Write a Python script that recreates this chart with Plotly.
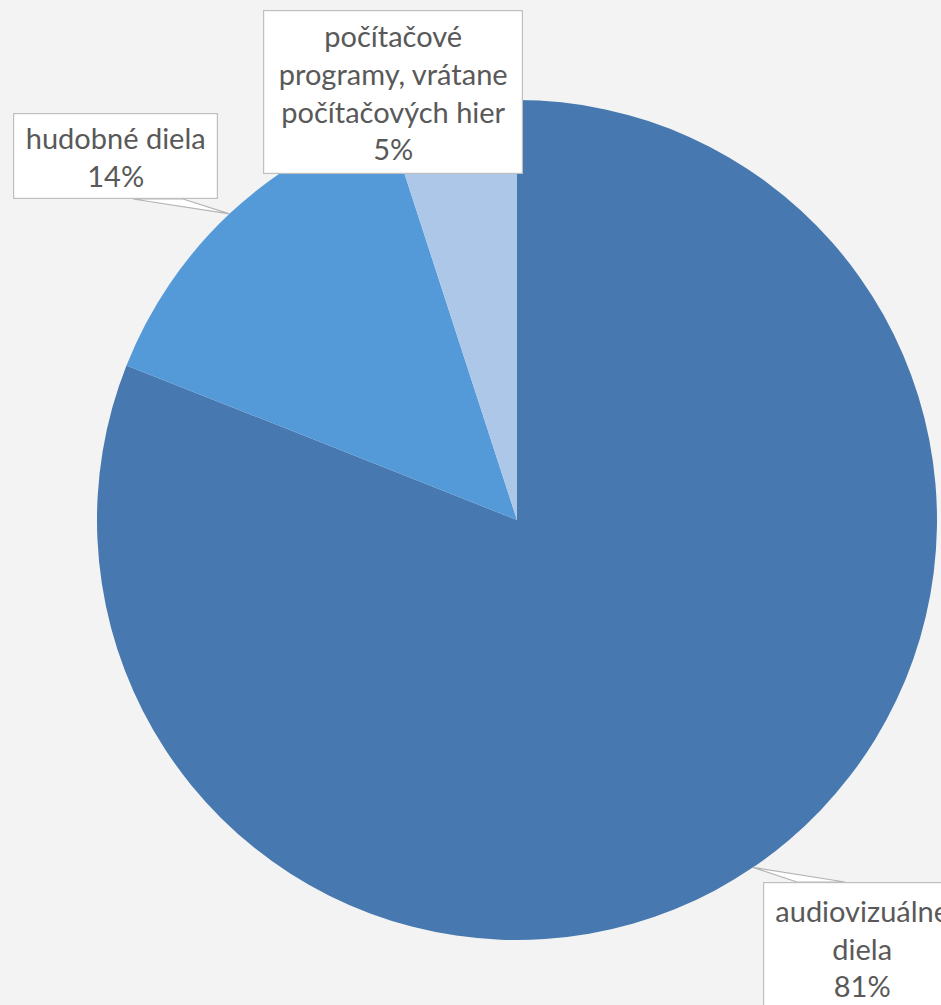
import math
import plotly.graph_objects as go

# data
kategorie = ["audiovizuálne diela", "hudobné diela", "počítačové programy, vrátane počítačových hier"]
podiely = [81, 14, 5]
popisky = ["audiovizuálne<br>diela<br>81%", "hudobné diela<br>14%", "počítačové<br>programy, vrátane<br>počítačových hier<br>5%"]
farby = ["#4779b0", "#559ad8", "#adc7e8"]

W, H = 941, 1005
# pie placement in pixels
cx, cy, r = 517, 520, 420


def px(x):
    return x / W


def py(y):
    return 1 - y / H


fig = go.Figure()

fig.add_trace(go.Pie(
    labels=kategorie,
    values=podiely,
    sort=False,
    direction="clockwise",
    rotation=0,
    textinfo="none",
    hoverinfo="label+percent",
    marker=dict(colors=farby, line=dict(width=0)),
    domain=dict(x=[px(cx - r), px(cx + r)], y=[py(cy + r), py(cy - r)]),
    showlegend=False,
))

# label boxes (center x, center y, width, height) in pixels - layout only
boxy = [
    (862, 948, 198, 132),
    (115.5, 156, 205, 86),
    (393, 92, 260, 164),
]
# callout wedge ends on the box edge (pixel x pairs, edge y)
klin = [
    (797, 845, 882),
    (133, 183, 199),
    None,
]

celkom = sum(podiely)
kum = 0
shapes = []
annotations = []
for i, hodnota in enumerate(podiely):
    stred = (kum + hodnota / 2) / celkom * 2 * math.pi
    kum += hodnota
    ax = cx + r * math.sin(stred)
    ay = cy - r * math.cos(stred)
    if klin[i] is not None:
        x1, x2, ey = klin[i]
        shapes.append(dict(
            type="path", xref="paper", yref="paper",
            path=f"M {px(ax)} {py(ay)} L {px(x1)} {py(ey)} L {px(x2)} {py(ey)} Z",
            fillcolor="white", line=dict(color="#b4b4b4", width=1.2),
        ))
    bx, by, bw, bh = boxy[i]
    annotations.append(dict(
        x=px(bx), y=py(by), xref="paper", yref="paper",
        text=popisky[i], showarrow=False,
        xanchor="center", yanchor="middle",
        width=bw - 10, height=bh - 10, borderpad=4,
        bgcolor="white", bordercolor="#bfbfbf", borderwidth=1.2,
        font=dict(family="Lato, Open Sans, sans-serif", size=29, color="#595959"),
        align="center",
    ))

fig.update_layout(
    width=W, height=H,
    margin=dict(l=0, r=0, t=0, b=0),
    paper_bgcolor="#f3f3f3",
    plot_bgcolor="#f3f3f3",
    shapes=shapes,
    annotations=annotations,
)

fig.write_html("out.html", config={"displayModeBar": False},
               post_script="document.body.style.margin='0';")
